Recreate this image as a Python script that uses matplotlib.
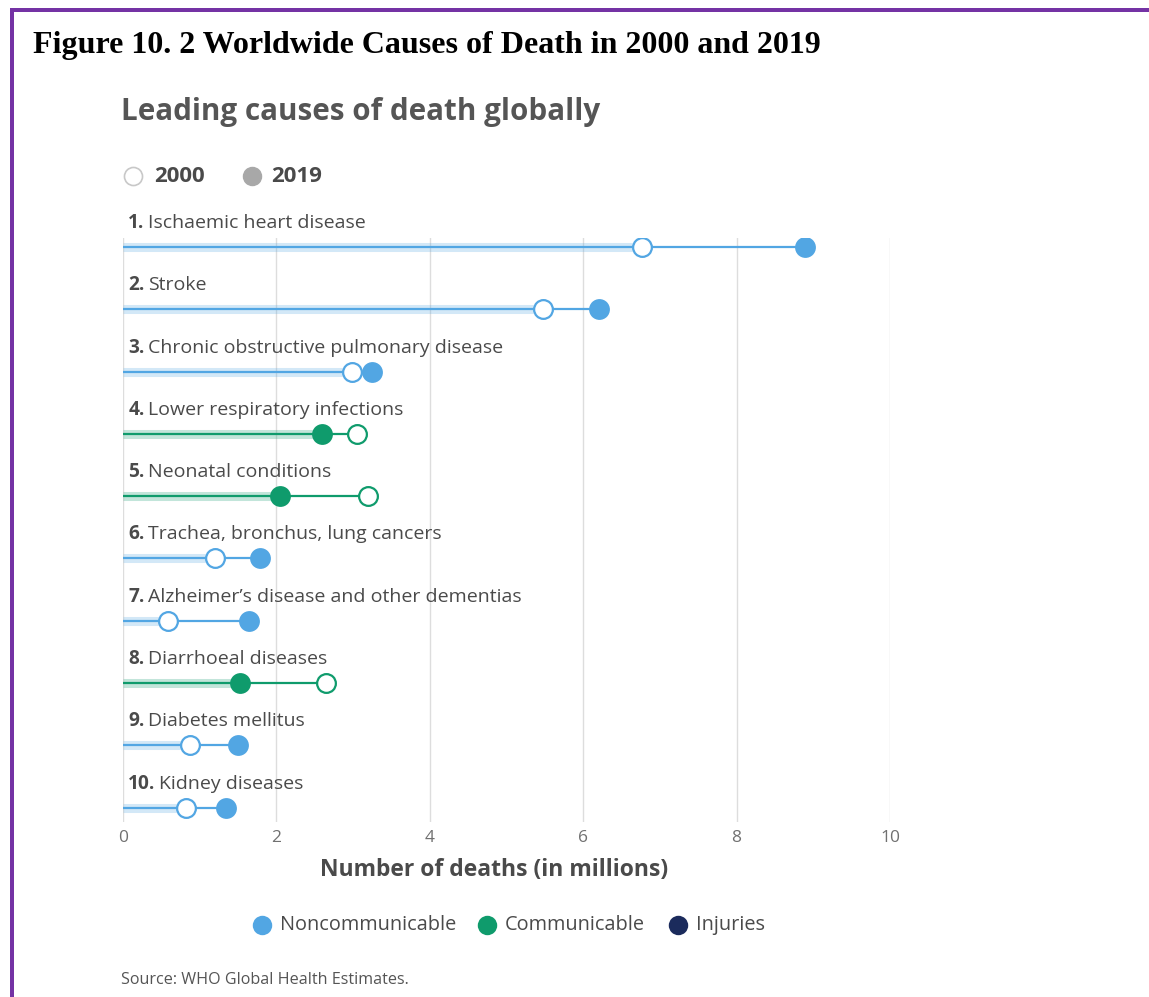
import matplotlib
matplotlib.use('Agg')
import matplotlib.pyplot as plt
from matplotlib.lines import Line2D
from matplotlib.patches import Rectangle

plt.rcParams['font.family'] = ['Open Sans', 'DejaVu Sans']

# data (millions of deaths)
causes = ['Ischaemic heart disease', 'Stroke', 'Chronic obstructive pulmonary disease',
          'Lower respiratory infections', 'Neonatal conditions',
          'Trachea, bronchus, lung cancers', 'Alzheimer\u2019s disease and other dementias',
          'Diarrhoeal diseases', 'Diabetes mellitus', 'Kidney diseases']
deaths_2000 = [6.77, 5.48, 2.99, 3.05, 3.19, 1.20, 0.59, 2.65, 0.87, 0.82]
deaths_2019 = [8.89, 6.21, 3.25, 2.59, 2.05, 1.79, 1.64, 1.53, 1.50, 1.34]
groups = ['Noncommunicable', 'Noncommunicable', 'Noncommunicable', 'Communicable',
          'Communicable', 'Noncommunicable', 'Noncommunicable', 'Communicable',
          'Noncommunicable', 'Noncommunicable']
group_names = ['Noncommunicable', 'Communicable', 'Injuries']
x_ticks = [0, 2, 4, 6, 8, 10]

group_colors = {'Noncommunicable': '#52a6e3', 'Communicable': '#0f9b6c', 'Injuries': '#1b2b5c'}
text_col = '#4a4a4a'

W, H = 1149, 997
fig = plt.figure(figsize=(W / 100, H / 100), dpi=100)
fig.patch.set_facecolor('white')

def fx(px):
    return px / W

def fy(py):
    return 1 - py / H

# purple frame (top and left only)
fig.add_artist(Rectangle((fx(10), fy(12)), 1 - fx(10), 4 / H, transform=fig.transFigure,
                         color='#7432a4', lw=0))
fig.add_artist(Rectangle((fx(10), 0), 4 / W, fy(8), transform=fig.transFigure,
                         color='#7432a4', lw=0))

fig.text(fx(33), fy(45), 'Figure 10. 2 Worldwide Causes of Death in 2000 and 2019',
         family='Liberation Serif', fontweight='bold', fontsize=23, va='center', ha='left',
         color='black')

fig.text(fx(121), fy(112), 'Leading causes of death globally', fontsize=21.3, fontweight='bold',
         color='#555555', va='center', ha='left')

# year legend
fig.add_artist(Line2D([fx(133)], [fy(176)], marker='o', markersize=13, markerfacecolor='white',
                      markeredgecolor='#c8c8c8', markeredgewidth=1.2, transform=fig.transFigure))
fig.text(fx(154), fy(176), '2000', fontsize=16, fontweight='bold', color=text_col, va='center')
fig.add_artist(Line2D([fx(252)], [fy(176)], marker='o', markersize=13, markerfacecolor='#a8a8a8',
                      markeredgecolor='#a8a8a8', transform=fig.transFigure))
fig.text(fx(271), fy(176), '2019', fontsize=16, fontweight='bold', color=text_col, va='center')

# main axes
ax = fig.add_axes([fx(123), fy(822), fx(890) - fx(123), (822 - 238) / H])
ax.set_xlim(0, 10)
ax.set_ylim(9.23, -0.144)
for s in ax.spines.values():
    s.set_visible(False)
ax.set_yticks([])
ax.set_xticks(x_ticks)
ax.tick_params(axis='x', length=0, pad=6, labelsize=12.5, labelcolor='#707070')
for t in x_ticks:
    ax.axvline(t, color='#dddddd', lw=1, zorder=0)

for i, cause in enumerate(causes):
    col = group_colors[groups[i]]
    a, b = deaths_2000[i], deaths_2019[i]
    lo, hi = min(a, b), max(a, b)
    ax.plot([0, lo], [i, i], color=col, lw=6.5, alpha=0.25, solid_capstyle='butt', zorder=1)
    ax.plot([0, hi], [i, i], color=col, lw=1.6, zorder=2)
    ax.plot(b, i, 'o', color=col, markersize=15, markeredgewidth=0, zorder=4)
    ax.plot(a, i, 'o', markerfacecolor='white', markeredgecolor=col, markersize=13.5,
            markeredgewidth=1.6, zorder=5)
    num = ax.text(0.07, i - 0.385, f'{i + 1}.', fontsize=13.8, fontweight='bold', color=text_col,
                  va='center', ha='left')
    ax.annotate(cause, xy=(1, 0.5), xycoords=num, xytext=(2.5, 0), textcoords='offset points',
                fontsize=14, color=text_col, va='center', ha='left')

fig.text(fx(494), fy(870), 'Number of deaths (in millions)', fontsize=16.5, fontweight='bold',
         color=text_col, ha='center', va='center')

# category legend
leg_dots = [262, 487, 678]
for gx, g in zip(leg_dots, group_names):
    fig.add_artist(Line2D([fx(gx)], [fy(925)], marker='o', markersize=14,
                          markerfacecolor=group_colors[g], markeredgewidth=0,
                          transform=fig.transFigure))
    fig.text(fx(gx + 18), fy(925), g, fontsize=14.3, color=text_col, va='center', ha='left')

fig.text(fx(121), fy(980), 'Source: WHO Global Health Estimates.', fontsize=11.6,
         color='#555555', va='center', ha='left')

fig.savefig('out.png', dpi=100, facecolor='white')
